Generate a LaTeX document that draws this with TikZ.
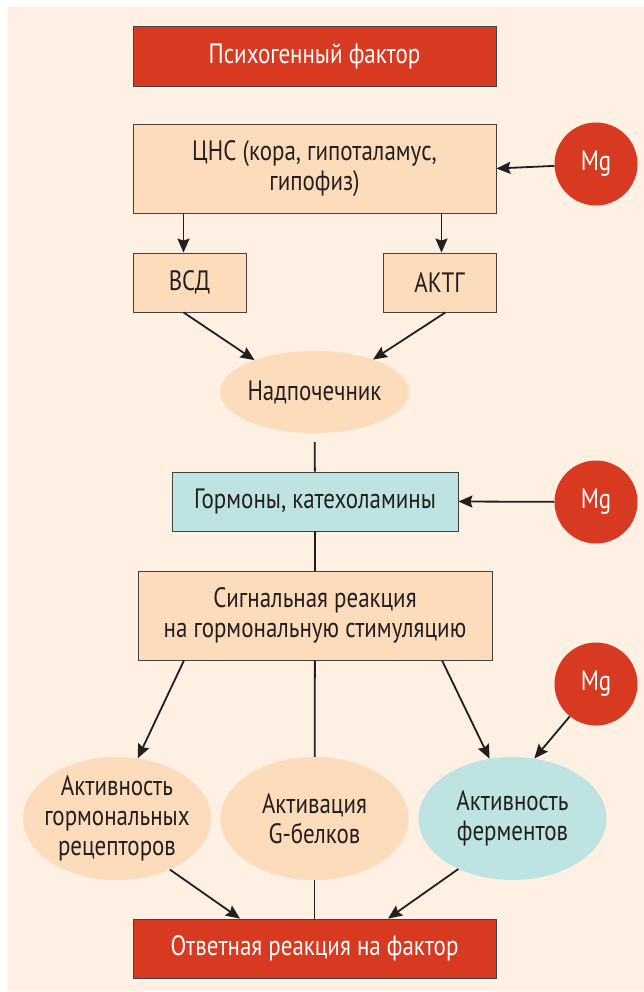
\documentclass[tikz,border=0pt]{standalone}
\usepackage{fontspec}
\setmainfont{PT Sans}[FakeStretch=0.82]
\usetikzlibrary{arrows.meta,shapes.geometric}
\definecolor{bgpeach}{HTML}{FEF0E3}
\definecolor{boxpeach}{HTML}{FDDCBC}
\definecolor{boxcyan}{HTML}{BDE3E3}
\definecolor{mgred}{HTML}{D73A20}
\definecolor{ink}{HTML}{231F20}

\begin{document}
\begin{tikzpicture}[x=1pt,y=-1pt,
  font=\fontsize{28}{30}\selectfont,
  box/.style={draw=ink!85,line width=0.8pt,align=center,inner sep=0pt,text=ink},
  peachbox/.style={box,fill=boxpeach}, cyanbox/.style={box,fill=boxcyan},
  redbox/.style={box,fill=mgred,text=white},
  blob/.style={ellipse,draw=none,inner sep=0pt,minimum width=188pt,minimum height=123pt},
  blobtext/.style={align=center,text=ink,inner sep=0pt},
  mg/.style={circle,fill=mgred,text=white,minimum size=83pt,inner sep=0pt},
  edge/.style={-{Stealth[length=14pt,width=12pt,inset=2pt]},line width=1.8pt,draw=ink},
  link/.style={line width=1.8pt,draw=ink}
]
\useasboundingbox (0,0) rectangle (644,992);
\fill[bgpeach] (8,7) rectangle (644,991);
% upper part
\node[redbox,minimum width=363pt,minimum height=60pt] (psy) at (314.5,56) {Психогенный фактор};
\node[peachbox,minimum width=363pt,minimum height=89pt] (cns) at (314.5,168.5) {ЦНС (кора, гипоталамус,\\гипофиз)};
\node[mg] (mg1) at (596,164) {Mg};
\node[peachbox,minimum width=113pt,minimum height=59pt] (vsd) at (189.5,282.5) {ВСД};
\node[peachbox,minimum width=113pt,minimum height=59pt] (aktg) at (439.5,282.5) {АКТГ};
\node[blob,fill=boxpeach,minimum width=189pt,minimum height=82pt,
  label={[blobtext]center:Надпочечник}] (nad) at (314.5,392) {};
% middle part
\node[cyanbox,minimum width=286pt,minimum height=59pt] (horm) at (315,501.5) {Гормоны, катехоламины};
\node[mg] (mg2) at (596,502) {Mg};
\node[peachbox,minimum width=354pt,minimum height=89pt] (sig) at (315,615.5) {Сигнальная реакция\\на гормональную стимуляцию};
\node[mg] (mg3) at (596,684) {Mg};
% lower part
\node[blob,fill=boxpeach,label={[blobtext]center:Активность\\гормональных\\рецепторов}] (rec) at (117,818.5) {};
\node[blob,fill=boxpeach,label={[blobtext]center:Активация\\G-белков}] (gbel) at (314.5,818.5) {};
\node[blob,fill=boxcyan,label={[blobtext]center:Активность\\ферментов}] (ferm) at (512.5,818.5) {};
\node[redbox,minimum width=363pt,minimum height=59pt] (otv) at (314.5,948.5) {Ответная реакция на фактор};
% connectors
\draw[edge] (mg1) -- (cns.east);
\draw[edge] ([xshift=-6]vsd.north |- cns.south) -- ([xshift=-6]vsd.north);
\draw[edge] ([xshift=2]aktg.north |- cns.south) -- ([xshift=2]aktg.north);
\draw[edge] ([xshift=-6]vsd.south) -- (nad.152);
\draw[edge] ([xshift=6]aktg.south) -- (nad.29);
\draw[link,shorten <=9pt] (nad) -- (horm);
\draw[edge] (mg2) -- (horm.east);
\draw[link] (horm) -- (sig);
\draw[edge] ([xshift=-131]sig.south) -- (rec.71);
\draw[link] (sig) -- (gbel);
\draw[edge] ([xshift=127]sig.south) -- (ferm.111);
\draw[edge] (mg3.231) -- (ferm.70);
\draw[edge] (rec.316) -- ([xshift=-74.5]otv.north);
\draw[link] (gbel) -- (otv);
\draw[edge] (ferm.223) -- ([xshift=73.5]otv.north);
\end{tikzpicture}
\end{document}
